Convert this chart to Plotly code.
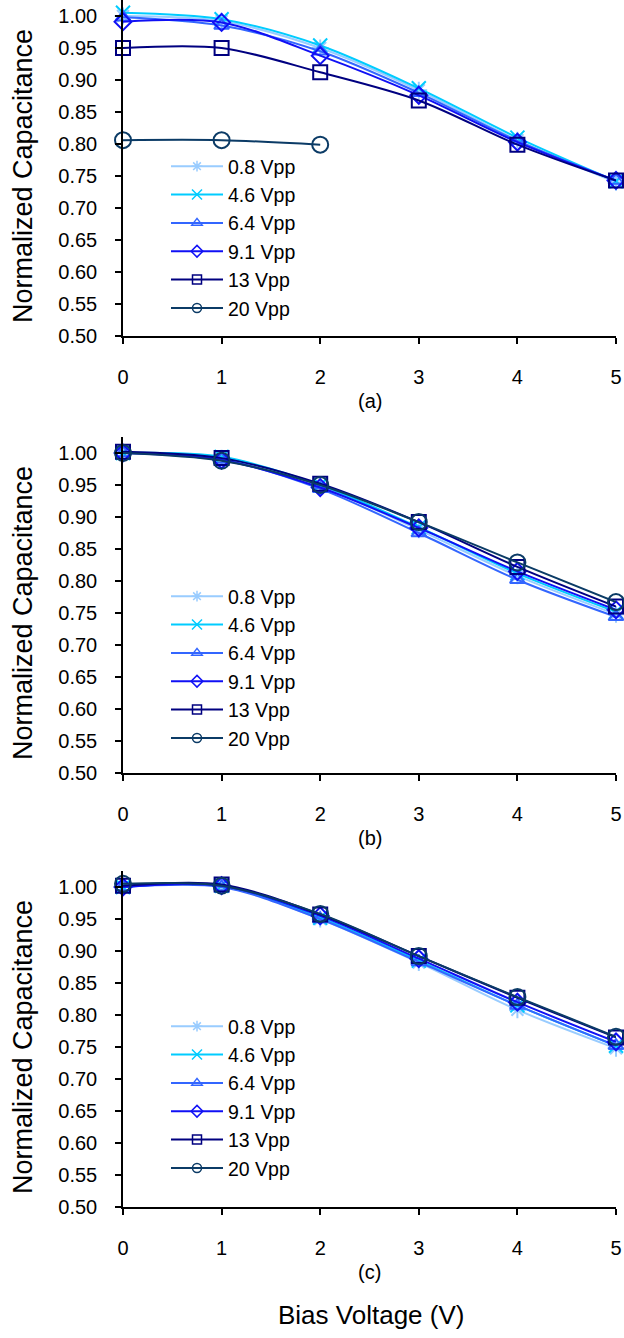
import plotly.graph_objects as go

bias = [0, 1, 2, 3, 4, 5]
names = ["0.8 Vpp", "4.6 Vpp", "6.4 Vpp", "9.1 Vpp", "13 Vpp", "20 Vpp"]

a_08 = [1.000, 0.992, 0.950, 0.884, 0.806, 0.740]
a_46 = [1.005, 0.995, 0.954, 0.887, 0.810, 0.742]
a_64 = [0.998, 0.985, 0.945, 0.880, 0.805, 0.743]
a_91 = [0.991, 0.990, 0.938, 0.876, 0.803, 0.743]
a_13 = [0.950, 0.950, 0.912, 0.868, 0.799, 0.743]
a_20 = [0.806, 0.806, 0.799]

b_08 = [1.000, 0.992, 0.948, 0.880, 0.808, 0.748]
b_46 = [1.000, 0.994, 0.950, 0.884, 0.812, 0.752]
b_64 = [1.000, 0.990, 0.944, 0.875, 0.802, 0.744]
b_91 = [1.000, 0.989, 0.946, 0.883, 0.815, 0.755]
b_13 = [1.002, 0.992, 0.952, 0.892, 0.822, 0.760]
b_20 = [1.000, 0.988, 0.950, 0.892, 0.829, 0.767]

c_08 = [1.000, 1.002, 0.950, 0.882, 0.808, 0.748]
c_46 = [1.000, 1.002, 0.952, 0.885, 0.815, 0.752]
c_64 = [1.000, 1.000, 0.950, 0.883, 0.815, 0.752]
c_91 = [1.000, 1.002, 0.955, 0.888, 0.820, 0.758]
c_13 = [1.002, 1.004, 0.957, 0.892, 0.827, 0.765]
c_20 = [1.005, 1.002, 0.958, 0.892, 0.828, 0.766]

y_ticks = [0.50, 0.55, 0.60, 0.65, 0.70, 0.75, 0.80, 0.85, 0.90, 0.95, 1.00]
panel_labels = ["(a)", "(b)", "(c)"]

colors = ["#99CCFF", "#00CCFF", "#3366FF", "#1010F5", "#000080", "#0B3B66"]
symbols = ["asterisk-open", "x-thin-open", "triangle-up-open", "diamond-open", "square-open", "circle-open"]
msizes = [14, 14, 13, 13, 14, 16]
lsizes = [9, 10, 9, 9, 9, 9]

panels = [
    [a_08, a_46, a_64, a_91, a_13, a_20],
    [b_08, b_46, b_64, b_91, b_13, b_20],
    [c_08, c_46, c_64, c_91, c_13, c_20],
]

W, H = 624, 1338
ML, MR, MT, MB = 123, 8, 0, 131
PW = W - ML - MR
PH = H - MT - MB

def py(p):  # pixel from top -> paper y
    return (PH - (p - MT)) / PH

def px(p):
    return (p - ML) / PW

panel_px = [(0, 336), (437, 773), (871, 1207)]

FONT = "Liberation Sans, Arial, sans-serif"
fig = go.Figure()

for pi, series in enumerate(panels):
    sfx = "" if pi == 0 else str(pi + 1)
    for si, vals in enumerate(series):
        fig.add_trace(go.Scatter(
            x=bias[:len(vals)], y=vals, name=names[si],
            mode="lines+markers",
            line=dict(color=colors[si], width=2, shape="spline", smoothing=0.9),
            marker=dict(symbol=symbols[si], size=msizes[si], color=colors[si],
                        line=dict(width=2, color=colors[si])),
            cliponaxis=False, showlegend=False,
            xaxis="x" + sfx, yaxis="y" + sfx,
        ))
    for si in range(6):
        fig.add_trace(go.Scatter(
            x=[None], y=[None], name=names[si], mode="lines+markers",
            line=dict(color=colors[si], width=2),
            marker=dict(symbol=symbols[si], size=lsizes[si], color=colors[si],
                        line=dict(width=1.5, color=colors[si])),
            legend="legend" + sfx, showlegend=True,
            xaxis="x" + sfx, yaxis="y" + sfx,
        ))

layout = dict(
    width=W, height=H,
    margin=dict(l=ML, r=MR, t=MT, b=MB),
    paper_bgcolor="white", plot_bgcolor="white",
    font=dict(family=FONT, color="black"),
    showlegend=True,
)

annotations = []
for pi, (top, bot) in enumerate(panel_px):
    sfx = "" if pi == 0 else str(pi + 1)
    layout["xaxis" + sfx] = dict(
        domain=[0, 1], anchor="y" + sfx, range=[0, 5], tickvals=bias,
        showline=True, linecolor="black", linewidth=1.5,
        ticks="outside", ticklen=6, tickwidth=1.5, tickcolor="black",
        showgrid=False, zeroline=False,
        tickfont=dict(size=20, family=FONT, color="black"),
        ticklabelstandoff=16,
    )
    layout["yaxis" + sfx] = dict(
        domain=[py(bot), py(top)], anchor="x" + sfx, range=[0.5, 1.025],
        tickvals=y_ticks, tickformat=".2f",
        showline=True, linecolor="black", linewidth=1.5,
        ticks="outside", ticklen=6, tickwidth=1.5, tickcolor="black",
        showgrid=False, zeroline=False,
        tickfont=dict(size=20, family=FONT, color="black"),
        ticklabelstandoff=14,
    )
    mid = (top + 16 + bot) / 2
    annotations.append(dict(
        text="Normalized Capacitance", xref="paper", yref="paper",
        x=px(23), y=py(mid), xanchor="center", yanchor="middle",
        textangle=-90, showarrow=False,
        font=dict(size=27, family=FONT, color="black"),
    ))
    annotations.append(dict(
        text=panel_labels[pi], xref="paper", yref="paper",
        x=0.5, y=py(bot + 65), xanchor="center", yanchor="middle",
        showarrow=False, font=dict(size=20, family=FONT, color="black"),
    ))
    lg_top = [147, 577, 1007][pi]
    layout["legend" + sfx] = dict(
        x=px(166), y=py(lg_top), xanchor="left", yanchor="top",
        bgcolor="rgba(0,0,0,0)", borderwidth=0,
        font=dict(size=19.5, family=FONT, color="black"),
        itemwidth=52, tracegroupgap=0,
    )

annotations.append(dict(
    text="Bias Voltage (V)", xref="paper", yref="paper",
    x=px(371), y=py(1315), xanchor="center", yanchor="middle",
    showarrow=False, font=dict(size=26, family=FONT, color="black"),
))
layout["annotations"] = annotations

fig.update_layout(**layout)
fig.write_html("out.html")
